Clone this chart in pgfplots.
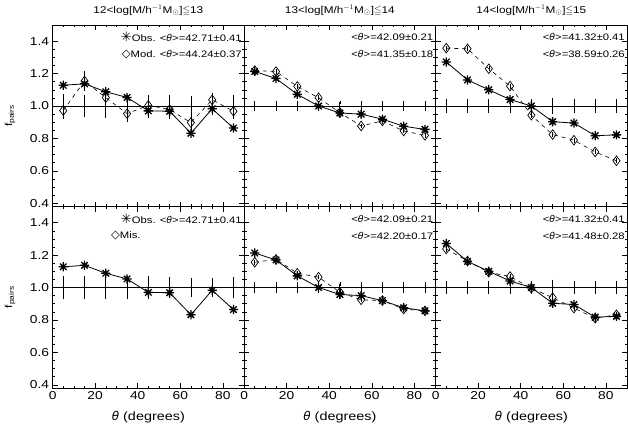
\documentclass[border=0pt]{standalone}
\usepackage{amssymb}
\usepackage{pgfplots}
\usepackage{pgfplotstable}
\pgfplotsset{compat=1.18}
\usepackage{fontspec}
\setmainfont{Liberation Sans}[FakeStretch=1.2]
\newfontfamily\djv{DejaVu Sans}

\pgfdeclareplotmark{ast8}{%
 \pgfpathmoveto{\pgfqpoint{-\pgfplotmarksize}{0pt}}%
 \pgfpathlineto{\pgfqpoint{\pgfplotmarksize}{0pt}}%
 \pgfpathmoveto{\pgfqpoint{0pt}{-\pgfplotmarksize}}%
 \pgfpathlineto{\pgfqpoint{0pt}{\pgfplotmarksize}}%
 \pgfpathmoveto{\pgfqpoint{-0.7071\pgfplotmarksize}{-0.7071\pgfplotmarksize}}%
 \pgfpathlineto{\pgfqpoint{0.7071\pgfplotmarksize}{0.7071\pgfplotmarksize}}%
 \pgfpathmoveto{\pgfqpoint{-0.7071\pgfplotmarksize}{0.7071\pgfplotmarksize}}%
 \pgfpathlineto{\pgfqpoint{0.7071\pgfplotmarksize}{-0.7071\pgfplotmarksize}}%
 \pgfusepathqstroke}

\pgfplotstableread{
x obs mod ce me
5 1.128 0.972 0.062 0.052
15 1.137 1.154 0.057 0.060
25 1.088 1.052 0.062 0.055
35 1.053 0.953 0.057 0.050
45 0.970 1.004 0.060 0.055
55 0.968 0.978 0.056 0.055
65 0.832 0.898 0.048 0.050
75 0.983 1.038 0.045 0.045
85 0.864 0.968 0.056 0.050
}\tabL

\pgfplotstableread{
x obs mod mis ce me
5 1.213 1.219 1.156 0.022 0.014
15 1.170 1.213 1.174 0.022 0.014
25 1.072 1.121 1.088 0.022 0.014
35 1.000 1.051 1.064 0.022 0.014
45 0.957 0.959 0.971 0.022 0.014
55 0.950 0.877 0.924 0.022 0.014
65 0.919 0.908 0.920 0.022 0.014
75 0.875 0.846 0.867 0.022 0.014
85 0.856 0.819 0.856 0.022 0.014
}\tabM

\pgfplotstableread{
x obs mod mis ce me
5 1.272 1.357 1.238 0.030 0.016
15 1.161 1.353 1.164 0.030 0.016
25 1.100 1.230 1.094 0.030 0.016
35 1.040 1.123 1.068 0.030 0.016
45 1.000 0.943 0.996 0.030 0.016
55 0.903 0.824 0.938 0.036 0.016
65 0.895 0.789 0.873 0.030 0.016
75 0.817 0.717 0.811 0.030 0.016
85 0.822 0.662 0.832 0.030 0.016
}\tabR

\newcommand{\ann}{\fontsize{9.4}{10}\selectfont}
\newcommand{\thet}{{\djv\itshape θ}}
\newcommand{\astsym}{{\djv\bfseries\fontsize{13}{11}\selectfont ✳}}
\newcommand{\diasym}{{\djv\fontsize{11.5}{11}\selectfont ◇}}

\pgfplotsset{
 panel/.style={
  scale only axis, width=191.5pt, height=181.5pt,
  xmin=0, xmax=90, ymin=0.38, ymax=1.5,
  xtick={0,20,40,60,80}, ytick={0.4,0.6,0.8,1.0,1.2,1.4},
  minor x tick num=3, minor y tick num=3,
  tick align=inside, tick pos=both,
  major tick length=5pt, minor tick length=2.5pt,
  axis line style={line width=0.8pt},
  every tick/.style={black, line width=0.5pt},
  tick label style={font=\fontsize{11.5}{13}\selectfont},
  /pgf/number format/assume math mode=true,
  y tick label style={/pgf/number format/.cd, fixed, fixed zerofill, precision=1},
  xlabel style={at={(axis description cs:0.5,-0.158)}, anchor=center, font=\fontsize{12}{14}\selectfont},
  ylabel style={at={(axis description cs:-0.222,0.5)}, anchor=center, font=\fontsize{10}{12}\selectfont},
  title style={at={(axis description cs:0.5,1)}, anchor=base, yshift=5.7pt, font=\fontsize{9.8}{11}\selectfont},
  clip mode=individual,
  anchor=south west,
 },
 noxlab/.style={xticklabels={}},
 noylab/.style={yticklabels={}},
 xlab/.style={xlabel={{\djv\itshape θ} (degrees)}},
 ylab/.style={ylabel={f\textsubscript{pairs}}},
 unity/.style={black, line width=0.8pt, forget plot},
 ctr/.style={black, only marks, mark=text, text mark={}, line width=0.8pt,
   error bars/.cd, y dir=both, y explicit,
   error bar style={line width=0.8pt},
   error mark options={mark size=1.8pt, line width=0.7pt}},
 obs/.style={black, line width=0.8pt, mark=ast8, mark size=4.6pt, mark options={line width=1.3pt, solid}},
 mods/.style={black, line width=0.6pt, dash pattern=on 4pt off 4pt, mark=diamond, mark size=4.8pt,
   mark options={line width=0.7pt, solid},
   error bars/.cd, y dir=both, y explicit,
   error bar style={line width=0.6pt, solid}, error mark=none},
}

\begin{document}
\begin{tikzpicture}
\useasboundingbox (0,0) rectangle (628pt,429pt);

% ---------- top left
\begin{axis}[panel, noxlab, ylab, at={(52.6pt,222.5pt)},
  title={12<log[M/h$^{-1}$M$_{\odot}$]$\leqq$13}]
\addplot[unity] coordinates {(0,1) (90,1)};
\addplot[ctr] table[x=x, y expr=1, y error=ce] {\tabL};
\addplot[mods] table[x=x, y=mod, y error=me] {\tabL};
\addplot[obs] table[x=x, y=obs] {\tabL};
\node[anchor=east, font=\ann, inner sep=0pt] at (axis cs:89,1.425) {\astsym Obs. <\thet>=42.71±0.41};
\node[anchor=east, font=\ann, inner sep=0pt] at (axis cs:89,1.32) {\diasym Mod. <\thet>=44.24±0.37};
\end{axis}

% ---------- top middle
\begin{axis}[panel, noxlab, noylab, at={(244.1pt,222.5pt)},
  title={13<log[M/h$^{-1}$M$_{\odot}$]$\leqq$14}]
\addplot[unity] coordinates {(0,1) (90,1)};
\addplot[ctr] table[x=x, y expr=1, y error=ce] {\tabM};
\addplot[mods] table[x=x, y=mod, y error=me] {\tabM};
\addplot[obs] table[x=x, y=obs] {\tabM};
\node[anchor=east, font=\ann, inner sep=0pt] at (axis cs:89,1.425) {<\thet>=42.09±0.21};
\node[anchor=east, font=\ann, inner sep=0pt] at (axis cs:89,1.32) {<\thet>=41.35±0.18};
\end{axis}

% ---------- top right
\begin{axis}[panel, noxlab, noylab, at={(435.6pt,222.5pt)},
  title={14<log[M/h$^{-1}$M$_{\odot}$]$\leqq$15}]
\addplot[unity] coordinates {(0,1) (90,1)};
\addplot[ctr] table[x=x, y expr=1, y error=ce] {\tabR};
\addplot[mods] table[x=x, y=mod, y error=me] {\tabR};
\addplot[obs] table[x=x, y=obs] {\tabR};
\node[anchor=east, font=\ann, inner sep=0pt] at (axis cs:89,1.425) {<\thet>=41.32±0.41};
\node[anchor=east, font=\ann, inner sep=0pt] at (axis cs:89,1.32) {<\thet>=38.59±0.26};
\end{axis}

% ---------- bottom left
\begin{axis}[panel, xlab, ylab, at={(52.6pt,41pt)}]
\addplot[unity] coordinates {(0,1) (90,1)};
\addplot[ctr] table[x=x, y expr=1, y error=ce] {\tabL};
\addplot[obs] table[x=x, y=obs] {\tabL};
\node[anchor=east, font=\ann, inner sep=0pt] at (axis cs:89,1.425) {\astsym Obs. <\thet>=42.71±0.41};
\node[anchor=west, font=\ann, inner sep=0pt] at (axis cs:27.4,1.32) {\diasym Mis.};
\end{axis}

% ---------- bottom middle
\begin{axis}[panel, xlab, noylab, at={(244.1pt,41pt)}]
\addplot[unity] coordinates {(0,1) (90,1)};
\addplot[ctr] table[x=x, y expr=1, y error=ce] {\tabM};
\addplot[mods] table[x=x, y=mis, y error=me] {\tabM};
\addplot[obs] table[x=x, y=obs] {\tabM};
\node[anchor=east, font=\ann, inner sep=0pt] at (axis cs:89,1.425) {<\thet>=42.09±0.21};
\node[anchor=east, font=\ann, inner sep=0pt] at (axis cs:89,1.32) {<\thet>=42.20±0.17};
\end{axis}

% ---------- bottom right
\begin{axis}[panel, xlab, noylab, at={(435.6pt,41pt)}]
\addplot[unity] coordinates {(0,1) (90,1)};
\addplot[ctr] table[x=x, y expr=1, y error=ce] {\tabR};
\addplot[mods] table[x=x, y=mis, y error=me] {\tabR};
\addplot[obs] table[x=x, y=obs] {\tabR};
\node[anchor=east, font=\ann, inner sep=0pt] at (axis cs:89,1.425) {<\thet>=41.32±0.41};
\node[anchor=east, font=\ann, inner sep=0pt] at (axis cs:89,1.32) {<\thet>=41.48±0.28};
\end{axis}
\end{tikzpicture}
\end{document}
